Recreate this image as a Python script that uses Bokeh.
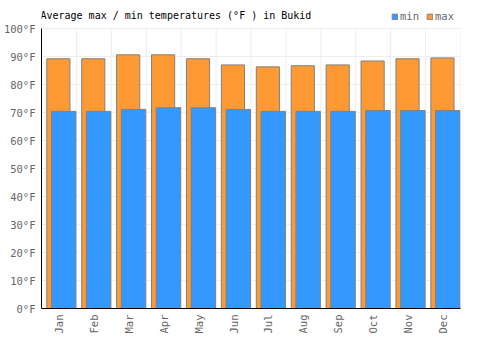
from bokeh.plotting import figure
from bokeh.models import (ColumnDataSource, FixedTicker, Legend, LegendItem, Label, Range1d)
from bokeh.transform import dodge
from bokeh.embed import file_html
from bokeh.resources import INLINE

months = ["Jan", "Feb", "Mar", "Apr", "May", "Jun", "Jul", "Aug", "Sep", "Oct", "Nov", "Dec"]
max_temp = [89.2, 89.2, 90.6, 90.6, 89.2, 87.0, 86.3, 86.7, 87.0, 88.4, 89.2, 89.5]
min_temp = [70.4, 70.4, 71.1, 71.7, 71.7, 71.1, 70.4, 70.4, 70.4, 70.7, 70.7, 70.7]
y_ticks = [0, 10, 20, 30, 40, 50, 60, 70, 80, 90, 100]
title_text = "Average max / min temperatures (°F ) in Bukid"

FONT = "DejaVu Sans Mono"
xs = list(range(len(months)))
src = ColumnDataSource(dict(x=xs, mx=max_temp, mn=min_temp))
y_top = y_ticks[-1]
bounds_x = [i - 0.5 for i in xs] + [xs[-1] + 0.5]
grid_src = ColumnDataSource(dict(x=bounds_x, y0=[0] * len(bounds_x), y1=[y_top] * len(bounds_x)))

p = figure(width=500, height=350, output_backend="svg", toolbar_location=None,
           x_range=Range1d(-0.5, len(months) - 0.5), y_range=Range1d(0, 110),
           min_border_left=41, min_border_right=40, min_border_top=0, min_border_bottom=42)
p.outline_line_color = None
p.background_fill_color = "white"

# vertical grid lines at category boundaries, only up to the top tick
p.segment(x0="x", x1="x", y0="y0", y1="y1", source=grid_src, line_color="#eeeeee", line_width=1)

r_max = p.vbar(x=dodge("x", -0.017), width=0.663, top="mx", bottom=0, source=src,
               fill_color="#FF9933", line_color="#808080", line_width=1)
r_min = p.vbar(x=dodge("x", 0.136), width=0.70, top="mn", bottom=0, source=src,
               fill_color="#3399FF", line_color="#808080", line_width=1)

p.xaxis.ticker = FixedTicker(ticks=xs)
p.xaxis.major_label_overrides = {i: m for i, m in enumerate(months)}
p.xaxis.major_label_orientation = 3.14159265 / 2
p.yaxis.ticker = FixedTicker(ticks=y_ticks)
p.yaxis.major_label_overrides = {t: f"{t}°F" for t in y_ticks}
p.yaxis.bounds = (0, y_top)
for ax in (p.xaxis, p.yaxis):
    ax.major_tick_out = 0
    ax.major_tick_in = 0
    ax.minor_tick_out = 0
    ax.minor_tick_in = 0
    ax.axis_line_color = "black"
    ax.axis_line_width = 1
    ax.major_label_text_font = FONT
    ax.major_label_text_font_size = "10.5px"
    ax.major_label_text_color = "#666666"
    ax.major_label_standoff = 6

p.xgrid.visible = False
p.ygrid.grid_line_color = "#eeeeee"

p.add_layout(Label(x=-0.53, y=104.8, text=title_text,
                   text_font=FONT, text_font_size="10px", text_color="black",
                   text_baseline="middle"))

legend = Legend(items=[LegendItem(label="min", renderers=[r_min]),
                       LegendItem(label="max", renderers=[r_max])],
                orientation="horizontal", location=(350, 286),
                glyph_width=7, glyph_height=7, label_standoff=2, spacing=6,
                padding=0, margin=0, border_line_color=None, background_fill_alpha=0,
                label_text_font=FONT, label_text_font_size="10.5px", label_text_color="#666666",
                label_height=7)
p.add_layout(legend)

open("out.html", "w").write(file_html(p, INLINE))
